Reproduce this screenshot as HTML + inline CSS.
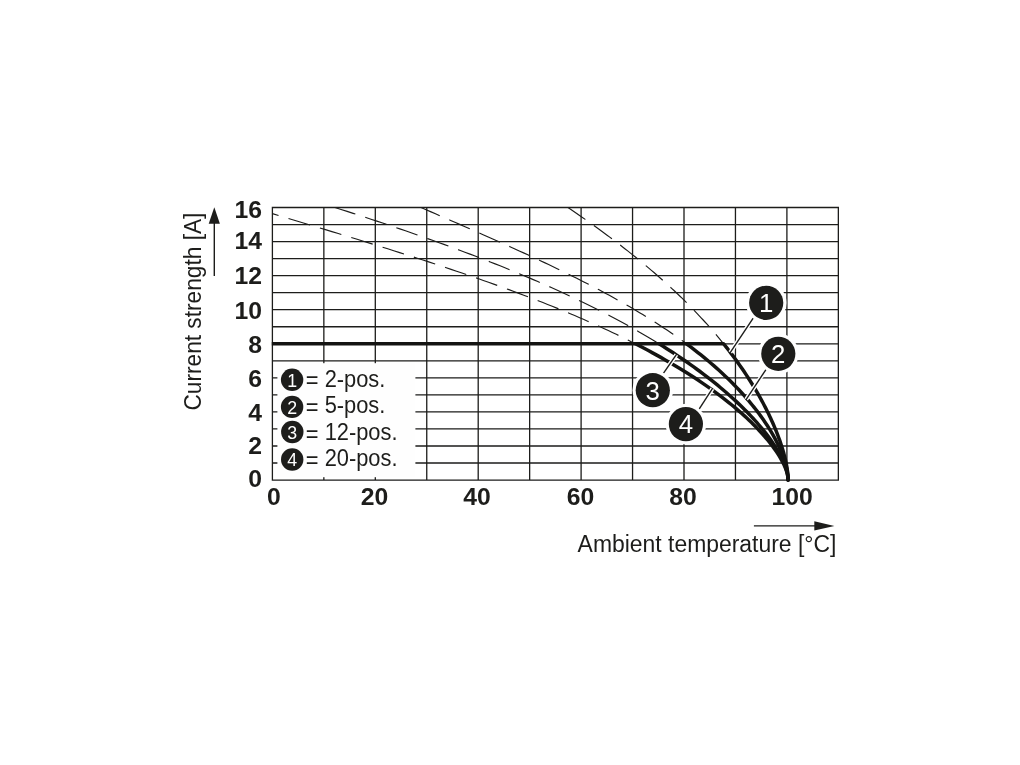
<!DOCTYPE html>
<html lang="en"><head><meta charset="utf-8"><title>Derating diagram</title>
<style>html,body{margin:0;padding:0;background:#fff;}body{width:1020px;height:765px;overflow:hidden;}svg{display:block;}text{font-family:"Liberation Sans",sans-serif;fill:#1d1d1b;}.b{font-weight:bold;font-size:23.7px;}.r{font-size:23.5px;}.w{fill:#fff;}</style></head><body>
<svg width="1020" height="765" viewBox="0 0 1020 765">
<rect width="1020" height="765" fill="#fff"/>
<path d="M272.40 480.06H838.35M272.40 463.02H838.35M272.40 445.99H838.35M272.40 428.95H838.35M272.40 411.92H838.35M272.40 394.88H838.35M272.40 377.85H838.35M272.40 360.81H838.35M272.40 343.78H838.35M272.40 326.75H838.35M272.40 309.71H838.35M272.40 292.68H838.35M272.40 275.64H838.35M272.40 258.61H838.35M272.40 241.57H838.35M272.40 224.53H838.35M272.40 207.50H838.35M272.40 207.50V480.06M323.85 207.50V480.06M375.30 207.50V480.06M426.75 207.50V480.06M478.20 207.50V480.06M529.65 207.50V480.06M581.10 207.50V480.06M632.55 207.50V480.06M684.00 207.50V480.06M735.45 207.50V480.06M786.90 207.50V480.06M838.35 207.50V480.06" fill="none" stroke="#1d1d1b" stroke-width="1.3" stroke-linecap="square"/>
<rect x="277.4" y="363.2" width="138" height="114" fill="#fefefe"/>
<path id="d1" d="M568.02 207.50 L570.93 209.49 L573.83 211.48 L576.71 213.46 L579.56 215.44 L582.40 217.42 L585.22 219.40 L588.02 221.38 L590.80 223.35 L593.56 225.33 L596.30 227.30 L599.02 229.27 L601.73 231.24 L604.41 233.21 L607.07 235.17 L609.72 237.14 L612.34 239.11 L614.95 241.07 L617.53 243.04 L620.10 245.01 L622.64 246.97 L625.17 248.94 L627.68 250.90 L630.17 252.87 L632.64 254.83 L635.08 256.80 L637.51 258.76 L639.93 260.73 L642.32 262.69 L644.69 264.66 L647.04 266.63 L649.37 268.60 L651.69 270.57 L653.98 272.54 L656.25 274.51 L658.51 276.48 L660.74 278.45 L662.96 280.42 L665.16 282.39 L667.33 284.37 L669.49 286.34 L671.63 288.32 L673.75 290.29 L675.85 292.27 L677.93 294.25 L679.99 296.22 L682.03 298.20 L684.05 300.18 L686.05 302.16 L688.03 304.14 L690.00 306.12 L691.94 308.11 L693.87 310.09 L695.77 312.07 L697.66 314.05 L699.52 316.04 L701.37 318.02 L703.19 320.00 L705.00 321.99 L706.79 323.97 L708.56 325.95 L710.31 327.94 L712.04 329.92 L713.75 331.90 L715.44 333.88 L717.11 335.86 L718.76 337.84 L720.40 339.82 L722.01 341.80 L723.60 343.78" fill="none" stroke="#1d1d1b" stroke-width="1.15" stroke-dasharray="22.4 10.4" stroke-dashoffset="1.3"/>
<path id="d2" d="M421.06 207.50 L426.08 209.69 L431.07 211.87 L436.02 214.03 L440.94 216.18 L445.83 218.31 L450.68 220.43 L455.49 222.53 L460.27 224.63 L465.02 226.71 L469.73 228.78 L474.40 230.83 L479.05 232.88 L483.65 234.92 L488.23 236.95 L492.76 238.96 L497.27 240.97 L501.74 242.98 L506.17 244.97 L510.57 246.96 L514.93 248.94 L519.26 250.91 L523.56 252.88 L527.82 254.84 L532.05 256.80 L536.24 258.75 L540.40 260.70 L544.52 262.64 L548.61 264.58 L552.66 266.52 L556.68 268.45 L560.67 270.38 L564.61 272.31 L568.53 274.23 L572.41 276.15 L576.26 278.08 L580.07 280.00 L583.84 281.92 L587.59 283.83 L591.29 285.75 L594.97 287.67 L598.61 289.59 L602.21 291.50 L605.78 293.42 L609.31 295.34 L612.81 297.26 L616.28 299.18 L619.71 301.10 L623.11 303.02 L626.47 304.94 L629.79 306.87 L633.09 308.79 L636.34 310.72 L639.57 312.65 L642.76 314.58 L645.91 316.51 L649.03 318.44 L652.11 320.38 L655.17 322.32 L658.18 324.26 L661.16 326.20 L664.11 328.15 L667.02 330.09 L669.90 332.04 L672.74 333.99 L675.55 335.95 L678.32 337.90 L681.06 339.86 L683.76 341.82 L686.43 343.78" fill="none" stroke="#1d1d1b" stroke-width="1.15" stroke-dasharray="22.4 10.4" stroke-dashoffset="2.0"/>
<path id="d3" d="M334.97 207.50 L341.07 209.45 L347.14 211.40 L353.16 213.35 L359.14 215.30 L365.07 217.25 L370.97 219.19 L376.83 221.13 L382.64 223.07 L388.41 225.01 L394.14 226.95 L399.83 228.89 L405.48 230.83 L411.09 232.77 L416.65 234.71 L422.18 236.65 L427.66 238.59 L433.10 240.53 L438.50 242.47 L443.86 244.41 L449.18 246.35 L454.45 248.29 L459.69 250.24 L464.88 252.18 L470.03 254.13 L475.14 256.08 L480.21 258.03 L485.24 259.98 L490.23 261.93 L495.17 263.89 L500.07 265.84 L504.94 267.80 L509.76 269.76 L514.54 271.73 L519.27 273.69 L523.97 275.66 L528.63 277.63 L533.24 279.60 L537.81 281.58 L542.34 283.55 L546.83 285.53 L551.28 287.51 L555.69 289.50 L560.05 291.48 L564.38 293.47 L568.66 295.46 L572.90 297.45 L577.10 299.45 L581.26 301.45 L585.38 303.45 L589.45 305.45 L593.49 307.45 L597.48 309.46 L601.43 311.46 L605.34 313.47 L609.21 315.49 L613.04 317.50 L616.82 319.51 L620.57 321.53 L624.27 323.55 L627.93 325.57 L631.55 327.59 L635.13 329.61 L638.67 331.63 L642.16 333.65 L645.62 335.68 L649.03 337.70 L652.41 339.73 L655.74 341.75 L659.03 343.78" fill="none" stroke="#1d1d1b" stroke-width="1.15" stroke-dasharray="22.4 10.4" stroke-dashoffset="1.0"/>
<path id="d4" d="M272.40 213.64 L279.19 215.68 L285.94 217.70 L292.64 219.72 L299.29 221.72 L305.91 223.71 L312.47 225.69 L318.99 227.67 L325.47 229.63 L331.90 231.58 L338.29 233.52 L344.63 235.46 L350.92 237.39 L357.17 239.31 L363.38 241.22 L369.54 243.13 L375.66 245.03 L381.73 246.93 L387.75 248.82 L393.73 250.70 L399.67 252.58 L405.56 254.46 L411.41 256.33 L417.21 258.20 L422.96 260.06 L428.67 261.92 L434.34 263.78 L439.96 265.64 L445.54 267.49 L451.07 269.34 L456.55 271.19 L461.99 273.04 L467.39 274.89 L472.74 276.73 L478.04 278.58 L483.31 280.42 L488.52 282.27 L493.69 284.11 L498.82 285.96 L503.90 287.80 L508.93 289.64 L513.92 291.49 L518.87 293.34 L523.77 295.18 L528.63 297.03 L533.44 298.88 L538.20 300.73 L542.92 302.58 L547.60 304.43 L552.23 306.29 L556.81 308.15 L561.35 310.00 L565.85 311.86 L570.30 313.72 L574.71 315.59 L579.07 317.45 L583.38 319.32 L587.65 321.19 L591.88 323.06 L596.06 324.94 L600.19 326.81 L604.28 328.69 L608.33 330.57 L612.33 332.45 L616.29 334.33 L620.20 336.22 L624.06 338.11 L627.88 340.00 L631.66 341.89 L635.39 343.78" fill="none" stroke="#1d1d1b" stroke-width="1.15" stroke-dasharray="22.4 10.4" stroke-dashoffset="16.0"/>
<path d="M271.8 343.78H723.6" fill="none" stroke="#141412" stroke-width="3.5"/>
<path id="s1" d="M723.60 343.78 L725.46 346.11 L727.29 348.44 L729.09 350.77 L730.86 353.10 L732.61 355.42 L734.33 357.74 L736.02 360.06 L737.69 362.37 L739.33 364.68 L740.94 366.99 L742.53 369.29 L744.09 371.58 L745.62 373.87 L747.12 376.16 L748.60 378.44 L750.05 380.71 L751.47 382.98 L752.86 385.24 L754.23 387.50 L755.57 389.74 L756.89 391.98 L758.17 394.21 L759.43 396.43 L760.67 398.64 L761.87 400.85 L763.05 403.04 L764.20 405.22 L765.33 407.39 L766.42 409.55 L767.49 411.70 L768.54 413.83 L769.55 415.95 L770.54 418.06 L771.50 420.15 L772.44 422.23 L773.35 424.30 L774.23 426.35 L775.08 428.38 L775.91 430.40 L776.71 432.40 L777.48 434.38 L778.22 436.34 L778.94 438.29 L779.63 440.21 L780.30 442.12 L780.93 444.00 L781.54 445.87 L782.13 447.71 L782.68 449.52 L783.21 451.32 L783.71 453.09 L784.18 454.84 L784.63 456.56 L785.05 458.25 L785.44 459.92 L785.81 461.56 L786.15 463.17 L786.46 464.76 L786.75 466.31 L787.00 467.84 L787.23 469.33 L787.44 470.79 L787.61 472.22 L787.76 473.61 L787.88 474.97 L787.98 476.30 L788.05 477.59 L788.09 478.84 L788.10 480.06" fill="none" stroke="#141412" stroke-width="3.5" stroke-linejoin="round" stroke-linecap="round"/>
<path id="s2" d="M686.43 343.78 L689.36 345.96 L692.24 348.14 L695.08 350.33 L697.88 352.52 L700.63 354.71 L703.35 356.90 L706.02 359.09 L708.64 361.28 L711.23 363.48 L713.77 365.67 L716.27 367.87 L718.72 370.07 L721.13 372.26 L723.50 374.46 L725.83 376.66 L728.12 378.85 L730.36 381.04 L732.56 383.24 L734.72 385.43 L736.83 387.61 L738.90 389.80 L740.93 391.98 L742.92 394.16 L744.86 396.34 L746.76 398.51 L748.62 400.67 L750.43 402.83 L752.20 404.99 L753.93 407.13 L755.62 409.27 L757.26 411.41 L758.87 413.53 L760.43 415.65 L761.94 417.76 L763.41 419.86 L764.85 421.94 L766.23 424.02 L767.58 426.08 L768.88 428.14 L770.14 430.18 L771.36 432.20 L772.53 434.21 L773.66 436.21 L774.75 438.19 L775.80 440.15 L776.80 442.10 L777.76 444.03 L778.68 445.94 L779.56 447.83 L780.39 449.70 L781.18 451.54 L781.93 453.37 L782.63 455.17 L783.30 456.95 L783.91 458.70 L784.49 460.42 L785.03 462.12 L785.52 463.80 L785.96 465.44 L786.37 467.05 L786.73 468.63 L787.05 470.18 L787.33 471.70 L787.57 473.19 L787.76 474.64 L787.91 476.05 L788.01 477.42 L788.08 478.76 L788.10 480.06" fill="none" stroke="#141412" stroke-width="3.5" stroke-linejoin="round" stroke-linecap="round"/>
<path id="s3" d="M659.03 343.78 L662.74 346.10 L666.40 348.42 L670.01 350.73 L673.56 353.05 L677.05 355.37 L680.50 357.68 L683.89 359.99 L687.22 362.30 L690.50 364.61 L693.73 366.92 L696.90 369.22 L700.02 371.52 L703.08 373.81 L706.09 376.10 L709.04 378.39 L711.95 380.67 L714.79 382.95 L717.58 385.22 L720.32 387.48 L723.01 389.74 L725.64 391.99 L728.21 394.23 L730.73 396.46 L733.20 398.69 L735.61 400.90 L737.97 403.11 L740.28 405.31 L742.53 407.49 L744.72 409.67 L746.86 411.83 L748.95 413.98 L750.99 416.12 L752.96 418.24 L754.89 420.35 L756.76 422.45 L758.58 424.53 L760.34 426.59 L762.05 428.64 L763.70 430.67 L765.30 432.69 L766.85 434.68 L768.34 436.66 L769.77 438.61 L771.16 440.55 L772.48 442.46 L773.76 444.36 L774.98 446.23 L776.14 448.07 L777.26 449.90 L778.31 451.69 L779.32 453.47 L780.26 455.21 L781.16 456.93 L782.00 458.62 L782.79 460.28 L783.52 461.92 L784.20 463.52 L784.82 465.09 L785.39 466.63 L785.90 468.13 L786.36 469.61 L786.77 471.04 L787.12 472.45 L787.42 473.81 L787.67 475.14 L787.86 476.43 L787.99 477.68 L788.07 478.89 L788.10 480.06" fill="none" stroke="#141412" stroke-width="3.5" stroke-linejoin="round" stroke-linecap="round"/>
<path id="s4" d="M635.39 343.78 L639.78 346.04 L644.11 348.31 L648.38 350.57 L652.58 352.84 L656.72 355.11 L660.79 357.38 L664.80 359.65 L668.75 361.92 L672.63 364.19 L676.44 366.47 L680.20 368.74 L683.89 371.01 L687.51 373.28 L691.07 375.55 L694.57 377.82 L698.00 380.08 L701.37 382.35 L704.67 384.61 L707.91 386.87 L711.09 389.12 L714.20 391.37 L717.24 393.61 L720.23 395.85 L723.15 398.08 L726.00 400.31 L728.79 402.53 L731.52 404.74 L734.18 406.95 L736.78 409.14 L739.31 411.32 L741.78 413.50 L744.19 415.66 L746.53 417.81 L748.81 419.95 L751.02 422.08 L753.17 424.19 L755.25 426.29 L757.28 428.37 L759.23 430.44 L761.12 432.49 L762.95 434.52 L764.72 436.53 L766.42 438.52 L768.05 440.49 L769.62 442.44 L771.13 444.37 L772.58 446.27 L773.95 448.15 L775.27 450.01 L776.52 451.83 L777.71 453.63 L778.83 455.40 L779.89 457.15 L780.88 458.86 L781.81 460.54 L782.68 462.18 L783.48 463.80 L784.22 465.37 L784.89 466.92 L785.50 468.42 L786.05 469.88 L786.53 471.31 L786.95 472.69 L787.30 474.03 L787.59 475.33 L787.81 476.58 L787.97 477.79 L788.07 478.95 L788.10 480.06" fill="none" stroke="#141412" stroke-width="3.5" stroke-linejoin="round" stroke-linecap="round"/>
<path d="M755.7 314.4L730.3 352.4" stroke="#fff" stroke-width="4.2" stroke-linecap="butt" fill="none"/>
<path d="M755.7 314.4L730.0 352.9" stroke="#1d1d1b" stroke-width="1.4" fill="none"/>
<path d="M767.5 367.3L746.2 399.4" stroke="#fff" stroke-width="4.2" stroke-linecap="butt" fill="none"/>
<path d="M767.5 367.3L745.9 399.9" stroke="#1d1d1b" stroke-width="1.4" fill="none"/>
<path d="M660.6 377.4L676.4 354.6" stroke="#fff" stroke-width="4.2" stroke-linecap="butt" fill="none"/>
<path d="M660.6 377.4L676.7 354.1" stroke="#1d1d1b" stroke-width="1.4" fill="none"/>
<path d="M697.0 412.3L712.4 388.7" stroke="#fff" stroke-width="4.2" stroke-linecap="butt" fill="none"/>
<path d="M697.0 412.3L712.7 388.2" stroke="#1d1d1b" stroke-width="1.4" fill="none"/>
<circle cx="766.2" cy="302.8" r="20.3" fill="#fff"/>
<circle cx="766.2" cy="302.8" r="17.1" fill="#1d1d1b"/>
<text class="w" x="766.2" y="312.1" font-size="25.8" text-anchor="middle">1</text>
<circle cx="778.3" cy="353.8" r="20.3" fill="#fff"/>
<circle cx="778.3" cy="353.8" r="17.1" fill="#1d1d1b"/>
<text class="w" x="778.3" y="363.1" font-size="25.8" text-anchor="middle">2</text>
<circle cx="652.8" cy="390.2" r="20.3" fill="#fff"/>
<circle cx="652.8" cy="390.2" r="17.1" fill="#1d1d1b"/>
<text class="w" x="652.8" y="399.5" font-size="25.8" text-anchor="middle">3</text>
<circle cx="685.9" cy="424.1" r="20.3" fill="#fff"/>
<circle cx="685.9" cy="424.1" r="17.1" fill="#1d1d1b"/>
<text class="w" x="685.9" y="433.4" font-size="25.8" text-anchor="middle">4</text>
<circle cx="292.1" cy="379.8" r="11.2" fill="#1d1d1b"/>
<text class="w" x="292.1" y="386.7" font-size="17.8" text-anchor="middle">1</text>
<text class="r" transform="translate(305.8 386.5) scale(0.93 1)"><tspan dy="1.9">=</tspan><tspan dy="-1.9"> 2-pos.</tspan></text>
<circle cx="292.1" cy="406.9" r="11.2" fill="#1d1d1b"/>
<text class="w" x="292.1" y="413.8" font-size="17.8" text-anchor="middle">2</text>
<text class="r" transform="translate(305.8 413.1) scale(0.93 1)"><tspan dy="1.9">=</tspan><tspan dy="-1.9"> 5-pos.</tspan></text>
<circle cx="292.3" cy="432.0" r="11.2" fill="#1d1d1b"/>
<text class="w" x="292.3" y="438.9" font-size="17.8" text-anchor="middle">3</text>
<text class="r" transform="translate(305.8 439.6) scale(0.93 1)"><tspan dy="1.9">=</tspan><tspan dy="-1.9"> 12-pos.</tspan></text>
<circle cx="292.2" cy="459.5" r="11.2" fill="#1d1d1b"/>
<text class="w" x="292.2" y="466.4" font-size="17.8" text-anchor="middle">4</text>
<text class="r" transform="translate(305.8 466.2) scale(0.93 1)"><tspan dy="1.9">=</tspan><tspan dy="-1.9"> 20-pos.</tspan></text>
<text class="b" transform="translate(262.0 218.0) scale(1.045 1)" text-anchor="end">16</text>
<text class="b" transform="translate(262.0 248.9) scale(1.045 1)" text-anchor="end">14</text>
<text class="b" transform="translate(262.0 283.6) scale(1.045 1)" text-anchor="end">12</text>
<text class="b" transform="translate(262.0 318.6) scale(1.045 1)" text-anchor="end">10</text>
<text class="b" transform="translate(262.0 353.0) scale(1.045 1)" text-anchor="end">8</text>
<text class="b" transform="translate(262.0 387.1) scale(1.045 1)" text-anchor="end">6</text>
<text class="b" transform="translate(262.0 420.5) scale(1.045 1)" text-anchor="end">4</text>
<text class="b" transform="translate(262.0 454.1) scale(1.045 1)" text-anchor="end">2</text>
<text class="b" transform="translate(262.0 487.0) scale(1.045 1)" text-anchor="end">0</text>
<text class="b" transform="translate(274.0 505.0) scale(1.045 1)" text-anchor="middle">0</text>
<text class="b" transform="translate(374.5 505.0) scale(1.045 1)" text-anchor="middle">20</text>
<text class="b" transform="translate(477.0 505.0) scale(1.045 1)" text-anchor="middle">40</text>
<text class="b" transform="translate(580.5 505.0) scale(1.045 1)" text-anchor="middle">60</text>
<text class="b" transform="translate(683.0 505.0) scale(1.045 1)" text-anchor="middle">80</text>
<text class="b" transform="translate(792.1 505.0) scale(1.045 1)" text-anchor="middle">100</text>
<text class="r" x="577.6" y="551.8" textLength="258.8" lengthAdjust="spacingAndGlyphs">Ambient temperature [°C]</text>
<text class="r" transform="translate(200.8 410.6) rotate(-90)" textLength="198" lengthAdjust="spacingAndGlyphs">Current strength [A]</text>
<path d="M753.9 525.9H816" stroke="#1d1d1b" stroke-width="1.4" fill="none"/>
<path d="M834.4 525.9L814.3 521.2V530.6Z" fill="#1d1d1b"/>
<path d="M214.3 276V222" stroke="#1d1d1b" stroke-width="1.4" fill="none"/>
<path d="M214.3 207.2L208.7 223.7H219.9Z" fill="#1d1d1b"/>
</svg></body></html>
